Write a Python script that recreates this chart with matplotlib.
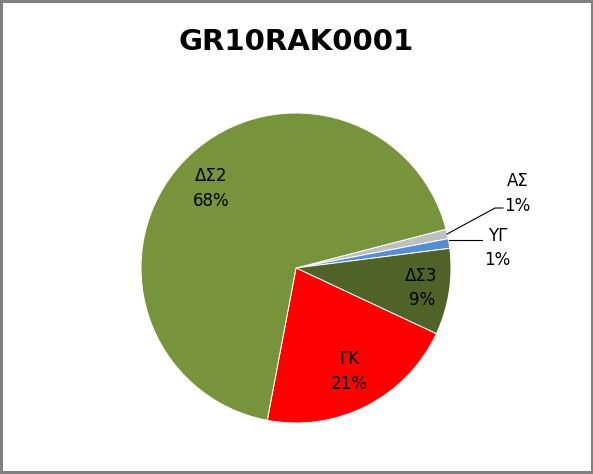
import numpy as np
import matplotlib
matplotlib.use("Agg")
import matplotlib.pyplot as plt
from matplotlib.patches import Rectangle

# data, clockwise from the small grey slice
names = ["ΑΣ", "ΥΓ", "ΔΣ3", "ΓΚ", "ΔΣ2"]
values = [1, 1, 9, 21, 68]
colors = ["#BFBFBF", "#558ED5", "#4F6228", "#FF0000", "#77933C"]

fig = plt.figure(figsize=(5.93, 4.74), dpi=100)
fig.patch.set_facecolor("white")
fig.patches.append(Rectangle((0.002, 0.004), 0.996, 0.994, transform=fig.transFigure,
                             fill=False, edgecolor="#808080", lw=2.2))

fig.text(0.5, 0.912, "GR10RAK0001", ha="center", va="center",
         fontsize=21, fontweight="bold", family="DejaVu Sans")

cx, cy, r = 296, 268, 155
ax = fig.add_axes([(cx - r) / 593, (474 - cy - r) / 474, 2 * r / 593, 2 * r / 474])
wedges, _ = ax.pie(values, colors=colors, startangle=14.5, counterclock=False,
                   radius=1, wedgeprops=dict(edgecolor="white", linewidth=0.7))
ax.set_xlim(-1, 1)
ax.set_ylim(-1, 1)
ax.set_aspect("equal")
ax.axis("off")

total = sum(values)
inside_r = {"ΔΣ3": 0.82, "ΓΚ": 0.75, "ΔΣ2": 0.75}
outside = {"ΥΓ": (1.30, 0.13), "ΑΣ": (1.43, 0.48)}
for w, n, v in zip(wedges, names, values):
    lab = "%s\n%d%%" % (n, round(v * 100 / total))
    mid = np.deg2rad((w.theta1 + w.theta2) / 2)
    ex, ey = np.cos(mid), np.sin(mid)
    if n in inside_r:
        rr = inside_r[n]
        ax.text(rr * ex, rr * ey, lab, ha="center", va="center",
                fontsize=12, linespacing=1.45, color="black")
    else:
        tx, ty = outside[n]
        ax.text(tx, ty, lab, ha="center", va="center", fontsize=12,
                linespacing=1.45, color="black", clip_on=False)
        if n == "ΥΓ":
            ax.plot([ex, 1.2], [ey + 0.02, ey + 0.02], color="black", lw=0.8, clip_on=False)
        else:
            ax.plot([ex, 1.284, 1.335], [ey, 0.387, 0.387], color="black", lw=0.8, clip_on=False)

fig.savefig("out.png", dpi=100, facecolor="white")
